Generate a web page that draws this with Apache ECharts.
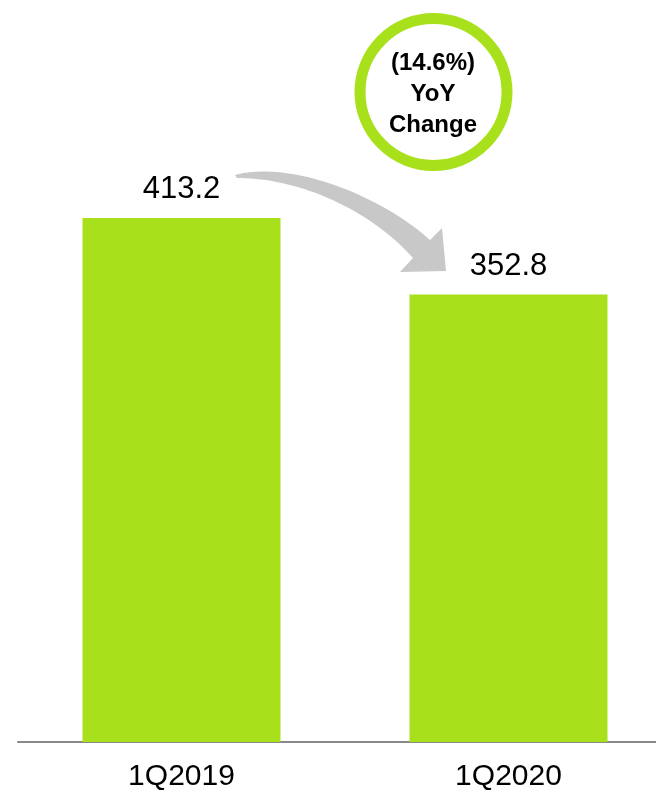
<!DOCTYPE html>
<html>
<head>
<meta charset="utf-8">
<script src="https://cdn.jsdelivr.net/npm/echarts@6/dist/echarts.min.js"></script>
<style>html,body{margin:0;padding:0;background:#fff;}#c{width:656px;height:794px;}</style>
</head>
<body>
<div id="c"></div>
<script>
const categories = ['1Q2019', '1Q2020'];
const values = [413.2, 352.8];
const changeText = ['(14.6%)', 'YoY', 'Change'];

const GREEN = '#a8e11b';
const FONT = '"Liberation Sans", Arial, sans-serif';

function bez(p0, p1, p2, p3, n) {
  const pts = [];
  for (let i = 0; i <= n; i++) {
    const t = i / n, u = 1 - t;
    pts.push([
      u*u*u*p0[0] + 3*u*u*t*p1[0] + 3*u*t*t*p2[0] + t*t*t*p3[0],
      u*u*u*p0[1] + 3*u*u*t*p1[1] + 3*u*t*t*p2[1] + t*t*t*p3[1]
    ]);
  }
  return pts;
}
const upper = bez([235,175],[290,160],[380,195],[430,240],40);
const lower = bez([413,258],[370,210],[300,178],[237,178],40);
const arrowPts = upper.concat([[442,228],[446,271],[400,272]]).concat(lower);

const chart = echarts.init(document.getElementById('c'), null, {renderer: 'canvas'});
chart.setOption({
  animation: false,
  backgroundColor: '#fff',
  grid: {left: 18, top: 42, right: -16, bottom: 52, containLabel: false, outerBoundsMode: 'none'},
  xAxis: {
    type: 'category',
    data: categories,
    axisLine: {show: true, lineStyle: {color: '#898989', width: 2}},
    axisTick: {show: false},
    axisLabel: {fontSize: 30, color: '#000', fontFamily: FONT, margin: 20}
  },
  yAxis: {
    type: 'value', min: 0, max: 552, show: false, splitLine: {show: false}
  },
  series: [{
    type: 'bar',
    data: values,
    barWidth: 198,
    itemStyle: {color: GREEN},
    label: {
      show: true, position: 'top', distance: 13,
      fontSize: 31, color: '#000', fontFamily: FONT,
      formatter: p => p.value.toFixed(1)
    }
  }],
  graphic: [
    {type: 'polygon', shape: {points: arrowPts}, style: {fill: '#c8c8c8'}, z: 10},
    {type: 'circle', shape: {cx: 433.5, cy: 92, r: 73.5}, style: {fill: '#fff', stroke: GREEN, lineWidth: 11}, z: 11},
    {type: 'text', x: 433, y: 94, z: 12,
      style: {text: changeText.join('\n'), fill: '#000', font: 'bold 24px ' + FONT,
        align: 'center', verticalAlign: 'middle', lineHeight: 31}}
  ]
});
</script>
</body>
</html>
